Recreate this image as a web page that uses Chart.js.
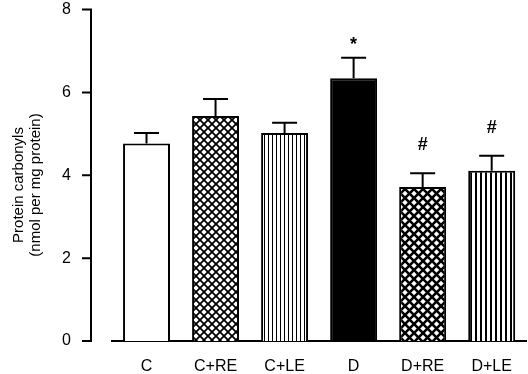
<!DOCTYPE html>
<html>
<head>
<meta charset="utf-8">
<script src="https://cdn.jsdelivr.net/npm/chart.js@4/dist/chart.umd.min.js"></script>
<style>
  html, body { margin: 0; padding: 0; background: #fff; }
  #wrap { position: relative; width: 528px; height: 374px; }
</style>
</head>
<body>
<div id="wrap"><canvas id="chart"></canvas></div>
<script>
// data
const groups = ["C", "C+RE", "C+LE", "D", "D+RE", "D+LE"];
const means = [4.77, 5.43, 5.02, 6.34, 3.72, 4.11];
const sems = [0.25, 0.41, 0.25, 0.5, 0.33, 0.36];
const marks = ["", "", "", "*", "#", "#"];
const yTicks = [0, 2, 4, 6, 8];

// fill patterns
function crossPattern(p, lw) {
  const c = document.createElement("canvas");
  c.width = p; c.height = p;
  const g = c.getContext("2d");
  g.fillStyle = "#fff";
  g.fillRect(0, 0, p, p);
  g.strokeStyle = "#000";
  g.lineWidth = lw;
  g.beginPath();
  g.moveTo(-1, -1); g.lineTo(p + 1, p + 1);
  g.moveTo(p + 1, -1); g.lineTo(-1, p + 1);
  g.stroke();
  return g.createPattern(c, "repeat");
}
function stripePattern(p, lw) {
  const c = document.createElement("canvas");
  c.width = p; c.height = 4;
  const g = c.getContext("2d");
  g.fillStyle = "#fff";
  g.fillRect(0, 0, p, 4);
  g.fillStyle = "#000";
  g.fillRect(0, 0, lw, 4);
  return g.createPattern(c, "repeat");
}

const fills = [
  "#fff",
  crossPattern(8, 1.8),
  stripePattern(4, 1),
  "#000",
  crossPattern(9, 2.6),
  stripePattern(5, 2)
];

// error bars, significance marks, y axis line, y title
const extras = {
  id: "extras",
  afterDatasetsDraw(chart) {
    const ctx = chart.ctx;
    const y = chart.scales.y;
    const meta = chart.getDatasetMeta(0);
    ctx.save();
    ctx.strokeStyle = "#000";
    ctx.lineWidth = 2;
    meta.data.forEach((bar, i) => {
      const top = y.getPixelForValue(means[i]);
      const cap = y.getPixelForValue(means[i] + sems[i]);
      ctx.beginPath();
      ctx.moveTo(bar.x, top);
      ctx.lineTo(bar.x, cap);
      ctx.moveTo(bar.x - 12.5, cap);
      ctx.lineTo(bar.x + 12.5, cap);
      ctx.stroke();
      if (marks[i]) {
        ctx.fillStyle = "#000";
        ctx.font = "bold 18px 'Liberation Sans', Arial, sans-serif";
        ctx.textAlign = "center";
        ctx.textBaseline = "middle";
        const off = marks[i] === "*" ? 13 : 28;
        ctx.fillText(marks[i], bar.x, cap - off);
      }
    });

    // y axis drawn away from the bars
    const ax = 91;
    ctx.beginPath();
    ctx.moveTo(ax, y.getPixelForValue(0) + 1);
    ctx.lineTo(ax, y.getPixelForValue(8) - 1);
    yTicks.forEach(t => {
      const py = y.getPixelForValue(t);
      ctx.moveTo(ax, py);
      ctx.lineTo(ax - 9, py);
    });
    ctx.stroke();

    ctx.fillStyle = "#000";
    ctx.font = "15px 'Liberation Sans', Arial, sans-serif";
    ctx.textAlign = "center";
    ctx.textBaseline = "middle";
    ctx.translate(0, 185);
    ctx.rotate(-Math.PI / 2);
    ctx.fillText("Protein carbonyls", 0, 19);
    ctx.fillText("(nmol per mg protein)", 0, 36);
    ctx.restore();
  }
};

new Chart(document.getElementById("chart"), {
  type: "bar",
  data: {
    labels: groups,
    datasets: [{
      data: means,
      backgroundColor: fills,
      borderColor: "#000",
      borderWidth: 2,
      borderSkipped: "bottom",
      barPercentage: 0.68,
      categoryPercentage: 1
    }]
  },
  options: {
    responsive: true,
    maintainAspectRatio: false,
    animation: false,
    layout: { padding: { top: 0, right: 1, left: 0, bottom: 0 } },
    plugins: { legend: { display: false }, tooltip: { enabled: false } },
    scales: {
      x: {
        afterFit(s) { s.height = 33; },
        grid: { display: false, drawTicks: false },
        border: { display: true, color: "#000", width: 2 },
        ticks: {
          color: "#000",
          padding: 16,
          font: { family: "'Liberation Sans', Arial, sans-serif", size: 16 }
        }
      },
      y: {
        min: 0,
        max: 8,
        afterFit(s) { s.width = 112; },
        afterBuildTicks(s) { s.ticks = yTicks.map(v => ({ value: v })); },
        grid: { display: false, drawTicks: true, tickLength: 41 },
        border: { display: false },
        ticks: {
          color: "#000",
          padding: 0,
          font: { family: "'Liberation Sans', Arial, sans-serif", size: 16 }
        }
      }
    }
  },
  plugins: [extras]
});
</script>
</body>
</html>
